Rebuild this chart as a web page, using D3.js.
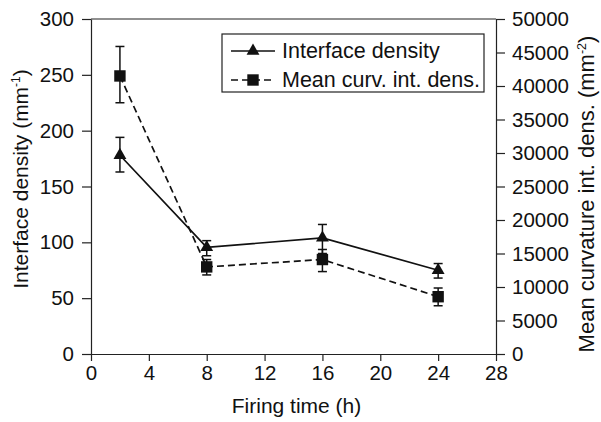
<!DOCTYPE html>
<html>
<head>
<meta charset="utf-8">
<script src="https://cdn.jsdelivr.net/npm/d3@7"></script>
<style>
  body { margin: 0; background: #fff; }
  svg { font-family: "Liberation Sans", Arial, sans-serif; }
  .axis path, .axis line { stroke: #222; stroke-width: 1.2; }
  .axis text { font-size: 20.5px; fill: #111; }
</style>
</head>
<body>
<div class="chart"></div>
<script>
// data
const hours = [2, 8, 16, 24];
const interfaceDensity = [178, 95.5, 104, 75];
const interfaceLow = [163, 88, 90, 68];
const interfaceHigh = [194, 101.5, 116, 81];
const curvDensity = [41500, 13000, 14100, 8550];
const curvLow = [37500, 11800, 12300, 7200];
const curvHigh = [45900, 14100, 15600, 9850];
const xTicks = [0, 4, 8, 12, 16, 20, 24, 28];
const yTicks = [0, 50, 100, 150, 200, 250, 300];
const y2Ticks = d3.range(0, 50001, 5000);

const margin = {top: 19, right: 105, bottom: 68, left: 91};
const width = 601 - margin.left - margin.right,
      height = 422 - margin.top - margin.bottom;

const svgRoot = d3.select(".chart").append("svg")
    .attr("width", 601)
    .attr("height", 422);
const svg = svgRoot.append("g")
    .attr("transform", `translate(${margin.left},${margin.top})`);

const x = d3.scaleLinear().domain([0, 28]).range([0, width]);
const y = d3.scaleLinear().domain([0, 300]).range([height, 0]);
const y2 = d3.scaleLinear().domain([0, 50000]).range([height, 0]);

// axes
svg.append("g").attr("class", "axis")
    .attr("transform", `translate(0,${height})`)
    .call(d3.axisBottom(x).tickValues(xTicks).tickSize(7).tickSizeOuter(0).tickPadding(4));
svg.append("g").attr("class", "axis")
    .call(d3.axisLeft(y).tickValues(yTicks).tickSize(9).tickSizeOuter(0).tickPadding(8));
svg.append("g").attr("class", "axis")
    .attr("transform", `translate(${width},0)`)
    .call(d3.axisRight(y2).tickValues(y2Ticks).tickFormat(d3.format("d"))
      .tickSize(9).tickSizeOuter(0).tickPadding(7));
// top frame line
svg.append("line")
    .attr("x1", 0).attr("x2", width).attr("y1", 0).attr("y2", 0)
    .attr("stroke", "#222").attr("stroke-width", 1.2);

// titles
svgRoot.append("text")
    .attr("x", margin.left + width / 2 + 3).attr("y", 413)
    .attr("text-anchor", "middle").attr("font-size", 21).attr("fill", "#111")
    .text("Firing time (h)");

const leftTitle = svgRoot.append("text")
    .attr("transform", "translate(28,179) rotate(-90)")
    .attr("text-anchor", "middle").attr("font-size", 21).attr("fill", "#111");
leftTitle.append("tspan").text("Interface density (mm");
leftTitle.append("tspan").attr("font-size", 12).attr("dy", -8).text("-1");
leftTitle.append("tspan").attr("dy", 8).text(")");

const rightTitle = svgRoot.append("text")
    .attr("transform", "translate(594,194) rotate(-90)")
    .attr("text-anchor", "middle").attr("font-size", 22).attr("fill", "#111");
rightTitle.append("tspan").text("Mean curvature int. dens. (mm");
rightTitle.append("tspan").attr("font-size", 12.5).attr("dy", -8).text("-2");
rightTitle.append("tspan").attr("dy", 8).text(")");

// series
const series = [
  {name: "Interface density", vals: interfaceDensity, lo: interfaceLow, hi: interfaceHigh, scale: y, dash: null, symbol: d3.symbolTriangle, size: 72},
  {name: "Mean curv. int. dens.", vals: curvDensity, lo: curvLow, hi: curvHigh, scale: y2, dash: "7,4", symbol: d3.symbolSquare, size: 130}
];

series.forEach(s => {
  const pts = hours.map((h, i) => ({h, v: s.vals[i], lo: s.lo[i], hi: s.hi[i]}));
  const line = d3.line().x(d => x(d.h)).y(d => s.scale(d.v));
  svg.append("path")
      .datum(pts)
      .attr("d", line)
      .attr("fill", "none")
      .attr("stroke", "#111")
      .attr("stroke-width", 1.7)
      .attr("stroke-dasharray", s.dash);

  const eb = svg.append("g").selectAll("g").data(pts).enter().append("g")
      .attr("stroke", "#111").attr("stroke-width", 1.5);
  eb.append("line")
      .attr("x1", d => x(d.h)).attr("x2", d => x(d.h))
      .attr("y1", d => s.scale(d.lo)).attr("y2", d => s.scale(d.hi));
  eb.append("line")
      .attr("x1", d => x(d.h) - 4.5).attr("x2", d => x(d.h) + 4.5)
      .attr("y1", d => s.scale(d.lo)).attr("y2", d => s.scale(d.lo));
  eb.append("line")
      .attr("x1", d => x(d.h) - 4.5).attr("x2", d => x(d.h) + 4.5)
      .attr("y1", d => s.scale(d.hi)).attr("y2", d => s.scale(d.hi));

  svg.append("g").selectAll("path").data(pts).enter().append("path")
      .attr("d", d3.symbol().type(s.symbol).size(s.size))
      .attr("transform", d => `translate(${x(d.h)},${s.scale(d.v)})`)
      .attr("fill", "#111");
});

// legend
const legend = svgRoot.append("g");
legend.append("rect")
    .attr("x", 222).attr("y", 34).attr("width", 262).attr("height", 58)
    .attr("fill", "#fff").attr("stroke", "#222").attr("stroke-width", 1.2);
series.forEach((s, i) => {
  const ly = 51 + i * 29;
  legend.append("line")
      .attr("x1", 231).attr("x2", 275).attr("y1", ly).attr("y2", ly)
      .attr("stroke", "#111").attr("stroke-width", 1.7)
      .attr("stroke-dasharray", s.dash);
  legend.append("path")
      .attr("d", d3.symbol().type(s.symbol).size(s.size))
      .attr("transform", `translate(253,${ly})`)
      .attr("fill", "#111");
  legend.append("text")
      .attr("x", 282).attr("y", ly + 6.5)
      .attr("font-size", 21.5).attr("fill", "#111")
      .text(s.name);
});
</script>
</body>
</html>
